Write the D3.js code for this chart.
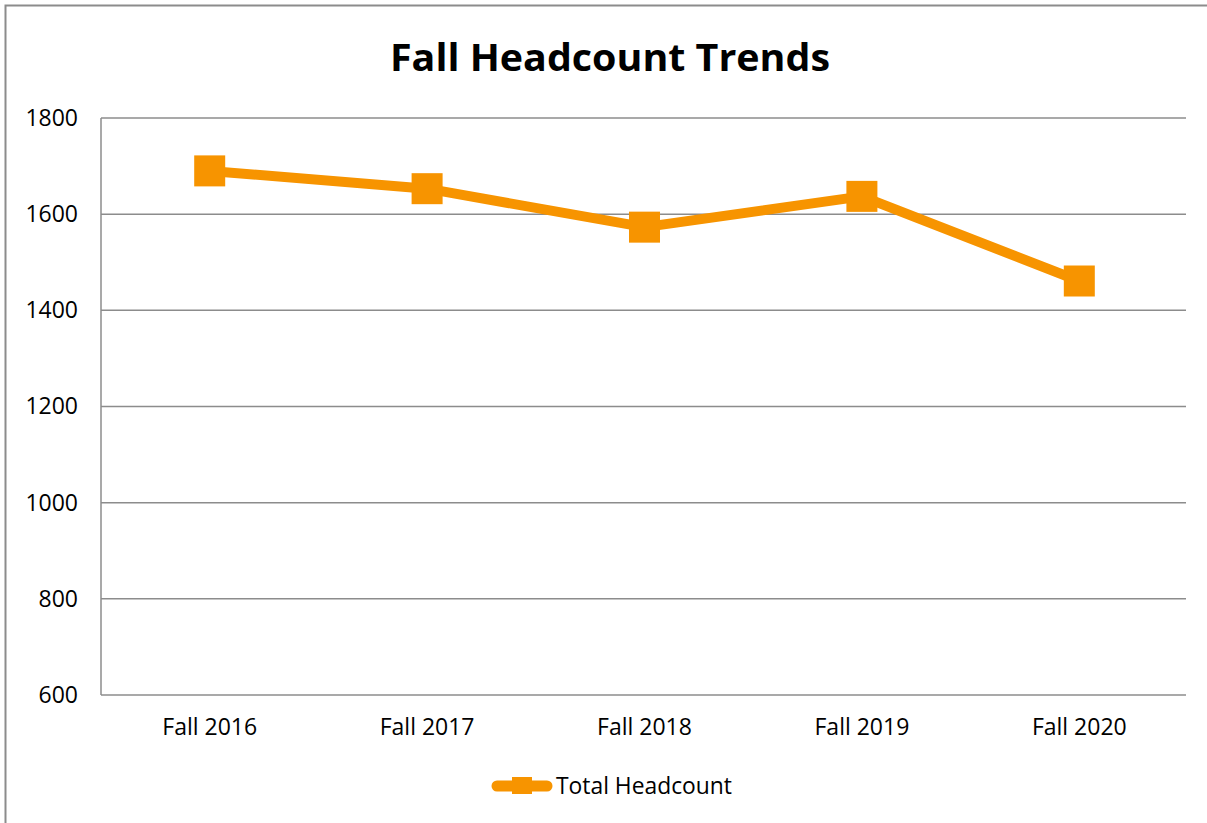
<!DOCTYPE html>
<html>
<head>
<meta charset="utf-8">
<script src="https://cdn.jsdelivr.net/npm/d3@7"></script>
<style>
  body { margin: 0; background: #fff; }
  text { font-family: "Open Sans", "Liberation Sans", sans-serif; fill: #000; }
</style>
</head>
<body>
<script>
const categories = ["Fall 2016", "Fall 2017", "Fall 2018", "Fall 2019", "Fall 2020"];
const headcount = [1690, 1653, 1573, 1637, 1461];
const yTicks = [600, 800, 1000, 1200, 1400, 1600, 1800];
const seriesName = "Total Headcount";
const chartTitle = "Fall Headcount Trends";

const width = 1207;
const height = 823;
const orange = "#f79400";
const gridColor = "#8c8c8c";

const margin = { left: 101, right: 19, top: 118, bottom: 128 };

let svg = d3.select("body")
  .append("svg")
  .attr("width", width)
  .attr("height", height)

// outer chart border (runs off right/bottom edge like the screenshot)
svg.append("rect")
  .attr("x", 5.5)
  .attr("y", 5.5)
  .attr("width", width + 20)
  .attr("height", height + 20)
  .attr("fill", "none")
  .attr("stroke", gridColor)
  .attr("stroke-width", 2)

let x = d3.scaleBand()
  .domain(categories)
  .range([margin.left, width - margin.right])

let y = d3.scaleLinear()
  .domain([600, 1800])
  .range([height - margin.bottom, margin.top])

// gridlines
svg.append("g")
  .selectAll("line")
  .data(yTicks)
  .enter()
  .append("line")
    .attr("x1", margin.left)
    .attr("x2", width - margin.right - 2)
    .attr("y1", d => y(d))
    .attr("y2", d => y(d))
    .attr("stroke", gridColor)
    .attr("stroke-width", 1.5)

// left axis line
svg.append("line")
  .attr("x1", margin.left)
  .attr("x2", margin.left)
  .attr("y1", y(600))
  .attr("y2", y(1800))
  .attr("stroke", gridColor)
  .attr("stroke-width", 1.5)

let yAxis = d3.axisLeft(y)
  .tickValues(yTicks)
  .tickSize(0)
  .tickPadding(23)
  .tickFormat(d3.format("d"))

svg.append("g")
  .attr("transform", `translate(${margin.left},0)`)
  .call(yAxis)
  .call(g => g.select(".domain").remove())
  .selectAll("text")
    .style("font-size", "23px")
    .style("font-family", "'Open Sans', sans-serif")

let xAxis = d3.axisBottom(x)
  .tickSize(0)
  .tickPadding(24)

svg.append("g")
  .attr("transform", `translate(0,${y(600)})`)
  .call(xAxis)
  .call(g => g.select(".domain").remove())
  .selectAll("text")
    .style("font-size", "23px")
    .style("font-family", "'Open Sans', sans-serif")

// series line
let line = d3.line()
  .x((d, i) => x(categories[i]) + x.bandwidth() / 2)
  .y(d => y(d))

svg.append("path")
  .datum(headcount)
  .attr("d", line)
  .attr("fill", "none")
  .attr("stroke", orange)
  .attr("stroke-width", 10)
  .attr("stroke-linejoin", "round")

const markerSize = 31;
svg.append("g")
  .selectAll("rect")
  .data(headcount)
  .enter()
  .append("rect")
    .attr("x", (d, i) => x(categories[i]) + x.bandwidth() / 2 - markerSize / 2)
    .attr("y", d => y(d) - markerSize / 2)
    .attr("width", markerSize)
    .attr("height", markerSize)
    .attr("fill", orange)

// title
svg.append("text")
  .attr("x", 610)
  .attr("y", 71)
  .attr("text-anchor", "middle")
  .style("font-size", "38px")
  .style("font-weight", "bold")
  .attr("textLength", 440)
  .attr("lengthAdjust", "spacingAndGlyphs")
  .text(chartTitle)

// legend
let legend = svg.append("g").attr("id", "legend")

legend.append("line")
  .attr("x1", 497)
  .attr("x2", 547)
  .attr("y1", 786)
  .attr("y2", 786)
  .attr("stroke", orange)
  .attr("stroke-width", 11)
  .attr("stroke-linecap", "round")

legend.append("rect")
  .attr("x", 512)
  .attr("y", 777)
  .attr("width", 20)
  .attr("height", 17)
  .attr("fill", orange)

legend.append("text")
  .attr("x", 556)
  .attr("y", 794)
  .style("font-size", "23px")
  .attr("textLength", 176)
  .attr("lengthAdjust", "spacingAndGlyphs")
  .text(seriesName)
</script>
</body>
</html>
